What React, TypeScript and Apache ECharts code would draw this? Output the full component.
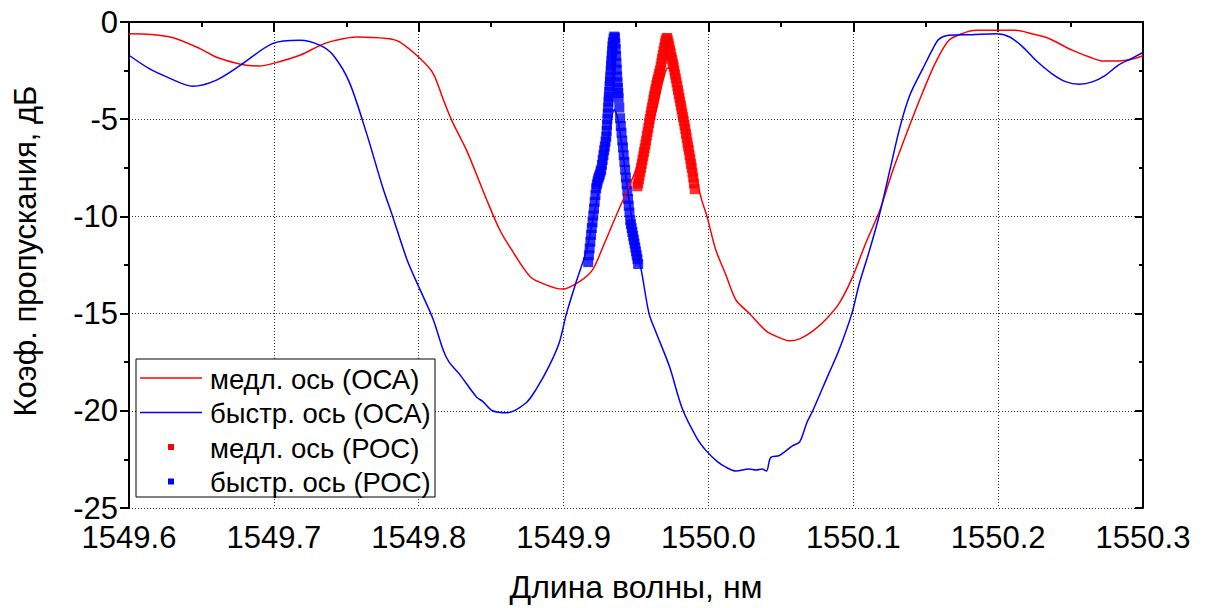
import React, { useEffect, useRef } from "react";
import * as echarts from "echarts";

const FONT = "'Liberation Sans', Arial, Helvetica, sans-serif";

const seriesNames = ["медл. ось (ОСА)", "быстр. ось (ОСА)", "медл. ось (РОС)", "быстр. ось (РОС)"];
const xAxisTitle = "Длина волны, нм";
const yAxisTitle = "Коэф. пропускания, дБ";

// slow axis, optical spectrum analyser
const slowOca: [number, number][] = [
  [1549.600, -0.60], [1549.615, -0.64], [1549.630, -0.80], [1549.649, -1.37], [1549.660, -1.80],
  [1549.677, -2.17], [1549.690, -2.26], [1549.699, -2.14], [1549.718, -1.71], [1549.732, -1.20],
  [1549.741, -0.97], [1549.757, -0.77], [1549.778, -0.85], [1549.787, -1.03], [1549.801, -1.88],
  [1549.810, -2.65], [1549.817, -4.00], [1549.823, -5.10], [1549.833, -6.59], [1549.847, -9.16],
  [1549.856, -10.70], [1549.864, -11.70], [1549.877, -13.10], [1549.888, -13.52], [1549.899, -13.74],
  [1549.911, -13.35], [1549.920, -12.75], [1549.927, -11.60], [1549.937, -9.84], [1549.948, -7.96],
  [1549.957, -6.25], [1549.964, -4.50], [1549.969, -2.90], [1549.972, -2.36], [1549.976, -2.60],
  [1549.982, -4.50], [1549.988, -6.80], [1549.995, -9.06], [1549.999, -10.00], [1550.005, -11.70],
  [1550.012, -13.00], [1550.019, -14.30], [1550.028, -14.97], [1550.040, -15.90], [1550.051, -16.30],
  [1550.056, -16.40], [1550.063, -16.30], [1550.072, -15.90], [1550.081, -15.30], [1550.090, -14.50],
  [1550.099, -13.20], [1550.109, -11.30], [1550.118, -9.75], [1550.127, -7.70], [1550.139, -5.30],
  [1550.148, -3.60], [1550.157, -2.05], [1550.166, -0.94], [1550.175, -0.60], [1550.185, -0.43],
  [1550.199, -0.43], [1550.212, -0.43], [1550.223, -0.60], [1550.235, -0.85], [1550.251, -1.45],
  [1550.263, -1.80], [1550.272, -2.00], [1550.283, -2.00], [1550.292, -1.92], [1550.300, -1.74],
];

// fast axis, optical spectrum analyser
const fastOca: [number, number][] = [
  [1549.600, -1.71], [1549.614, -2.40], [1549.626, -2.82], [1549.644, -3.30], [1549.660, -3.00],
  [1549.677, -2.22], [1549.699, -1.11], [1549.718, -0.94], [1549.732, -1.20], [1549.741, -1.71],
  [1549.752, -3.08], [1549.764, -5.73], [1549.775, -8.47], [1549.782, -10.00], [1549.792, -12.24],
  [1549.801, -13.78], [1549.810, -15.30], [1549.817, -16.90], [1549.821, -17.50], [1549.828, -18.10],
  [1549.840, -19.30], [1549.844, -19.50], [1549.851, -20.00], [1549.861, -20.10], [1549.874, -19.60],
  [1549.881, -18.90], [1549.890, -17.70], [1549.897, -16.50], [1549.902, -15.00], [1549.909, -13.30],
  [1549.916, -11.70], [1549.922, -9.50], [1549.928, -7.30], [1549.933, -5.00], [1549.935, -4.50],
  [1549.938, -5.20], [1549.944, -8.50], [1549.950, -11.50], [1549.954, -12.90], [1549.959, -15.00],
  [1549.964, -16.00], [1549.973, -17.70], [1549.982, -19.90], [1549.992, -21.40], [1549.999, -22.10],
  [1550.006, -22.60], [1550.012, -22.90], [1550.019, -23.10], [1550.028, -23.00], [1550.033, -23.05],
  [1550.037, -23.00], [1550.040, -23.10], [1550.043, -22.40], [1550.049, -22.30], [1550.058, -21.80],
  [1550.063, -21.60], [1550.068, -20.60], [1550.072, -20.00], [1550.083, -18.10], [1550.090, -16.90],
  [1550.099, -15.00], [1550.104, -13.50], [1550.111, -11.80], [1550.118, -9.93], [1550.125, -7.70],
  [1550.132, -5.47], [1550.139, -3.77], [1550.148, -2.40], [1550.155, -1.37], [1550.159, -0.89],
  [1550.166, -0.68], [1550.182, -0.65], [1550.199, -0.60], [1550.208, -0.77], [1550.217, -1.28],
  [1550.226, -1.97], [1550.237, -2.65], [1550.247, -3.08], [1550.256, -3.20], [1550.265, -3.08],
  [1550.274, -2.74], [1550.283, -2.22], [1550.292, -1.88], [1550.300, -1.57],
];

// slow axis, DFB (РОС) measurement
const slowPoc: [number, number][] = [
  [1549.9510, -8.45], [1549.9515, -8.30], [1549.9520, -8.10], [1549.9525, -7.90], [1549.9530, -7.70],
  [1549.9535, -7.50], [1549.9540, -7.30], [1549.9545, -7.10], [1549.9550, -6.90], [1549.9555, -6.70],
  [1549.9560, -6.50], [1549.9565, -6.30], [1549.9570, -6.10], [1549.9575, -5.85], [1549.9580, -5.65],
  [1549.9585, -5.45], [1549.9590, -5.20], [1549.9595, -5.00], [1549.9600, -4.80], [1549.9605, -4.60],
  [1549.9610, -4.40], [1549.9615, -4.20], [1549.9620, -4.00], [1549.9625, -3.80], [1549.9630, -3.60],
  [1549.9635, -3.45], [1549.9640, -3.25], [1549.9645, -3.10], [1549.9650, -2.95], [1549.9655, -2.80],
  [1549.9660, -2.65], [1549.9665, -2.50], [1549.9670, -2.30], [1549.9675, -2.10], [1549.9680, -1.90],
  [1549.9685, -1.70], [1549.9690, -1.50], [1549.9695, -1.30], [1549.9700, -1.10], [1549.9705, -0.95],
  [1549.9710, -0.85], [1549.9715, -0.82], [1549.9720, -0.95], [1549.9725, -1.10], [1549.9730, -1.25],
  [1549.9735, -1.45], [1549.9740, -1.60], [1549.9745, -1.80], [1549.9750, -1.95], [1549.9755, -2.15],
  [1549.9760, -2.30], [1549.9765, -2.50], [1549.9770, -2.70], [1549.9775, -2.90], [1549.9780, -3.10],
  [1549.9785, -3.30], [1549.9790, -3.50], [1549.9795, -3.70], [1549.9800, -3.90], [1549.9805, -4.10],
  [1549.9810, -4.30], [1549.9815, -4.50], [1549.9820, -4.70], [1549.9825, -4.90], [1549.9830, -5.10],
  [1549.9835, -5.30], [1549.9840, -5.50], [1549.9845, -5.75], [1549.9850, -5.95], [1549.9855, -6.20],
  [1549.9860, -6.40], [1549.9865, -6.60], [1549.9870, -6.85], [1549.9875, -7.05], [1549.9880, -7.30],
  [1549.9885, -7.50], [1549.9890, -7.75], [1549.9895, -8.00], [1549.9900, -8.30], [1549.9905, -8.60],
];

// fast axis, DFB (РОС) measurement
const fastPoc: [number, number][] = [
  [1549.91700, -12.35], [1549.91750, -12.00], [1549.91800, -11.65], [1549.91850, -11.30], [1549.91900, -10.95],
  [1549.91950, -10.60], [1549.92000, -10.30], [1549.92050, -9.95], [1549.92100, -9.60], [1549.92150, -9.25],
  [1549.92200, -8.90], [1549.92250, -8.55], [1549.92300, -8.35], [1549.92350, -8.20], [1549.92400, -8.05],
  [1549.92450, -7.95], [1549.92500, -7.85], [1549.92550, -7.70], [1549.92600, -7.60], [1549.92650, -7.35],
  [1549.92700, -7.10], [1549.92750, -6.85], [1549.92800, -6.60], [1549.92850, -6.40], [1549.92900, -6.15],
  [1549.92950, -5.90], [1549.92975, -5.60], [1549.93000, -5.30], [1549.93025, -5.00], [1549.93050, -4.70],
  [1549.93075, -4.40], [1549.93100, -4.10], [1549.93125, -3.85], [1549.93150, -3.60], [1549.93175, -3.30],
  [1549.93200, -3.05], [1549.93225, -2.80], [1549.93250, -2.50], [1549.93275, -2.25], [1549.93300, -2.00],
  [1549.93325, -1.75], [1549.93350, -1.50], [1549.93375, -1.25], [1549.93400, -1.05], [1549.93450, -0.85],
  [1549.93500, -0.75], [1549.93550, -0.80], [1549.93575, -1.10], [1549.93600, -1.40], [1549.93625, -1.75],
  [1549.93650, -2.10], [1549.93675, -2.45], [1549.93700, -2.80], [1549.93725, -3.10], [1549.93750, -3.40],
  [1549.93775, -3.65], [1549.93800, -3.90], [1549.93850, -4.40], [1549.93900, -4.95], [1549.93950, -5.35],
  [1549.94000, -5.70], [1549.94050, -6.10], [1549.94100, -6.45], [1549.94150, -6.85], [1549.94200, -7.20],
  [1549.94250, -7.60], [1549.94300, -8.00], [1549.94350, -8.35], [1549.94400, -8.70], [1549.94450, -9.10],
  [1549.94500, -9.45], [1549.94550, -9.80], [1549.94600, -10.20], [1549.94650, -10.40], [1549.94700, -10.60],
  [1549.94750, -10.80], [1549.94800, -11.00], [1549.94850, -11.20], [1549.94900, -11.40], [1549.94950, -11.60],
  [1549.95000, -11.80], [1549.95050, -12.00], [1549.95100, -12.20], [1549.95150, -12.45],
];

const X_MIN = 1549.6;
const X_MAX = 1550.3;
const X_STEP = 0.1;
const Y_MIN = -25;
const Y_MAX = 0;
const Y_STEP = 5;

const RED = "#ff0000";
const BLUE = "#0000ff";

export default function App() {
  const ref = useRef<HTMLDivElement>(null);

  useEffect(() => {
    if (!ref.current) return;
    const chart = echarts.init(ref.current, undefined, { renderer: "svg" });

    const grid = { left: 129, right: 62, top: 22, bottom: 100 };

    const baseAxisLine = { show: true, lineStyle: { color: "#000", width: 2 } };

    const legendX = 136;
    const legendY = 359;
    const rowH = 34.5;
    const legendGraphic: any[] = [
      {
        type: "rect",
        shape: { x: legendX, y: legendY, width: 299, height: 138 },
        style: { fill: "#fff", stroke: "#000", lineWidth: 1 },
        z: 100,
      },
    ];
    seriesNames.forEach((name, i) => {
      const cy = legendY + 19 + i * rowH;
      const color = i % 2 === 0 ? RED : BLUE;
      if (i < 2) {
        legendGraphic.push({
          type: "line",
          shape: { x1: legendX + 4, y1: cy, x2: legendX + 66, y2: cy },
          style: { stroke: color, lineWidth: 1.5 },
          z: 101,
        });
      } else {
        legendGraphic.push({
          type: "rect",
          shape: { x: legendX + 32, y: cy - 3, width: 6, height: 6 },
          style: { fill: color },
          z: 101,
        });
      }
      legendGraphic.push({
        type: "text",
        x: legendX + 74,
        y: cy + 1,
        style: {
          text: name,
          font: `27.5px ${FONT}`,
          fill: "#000",
          verticalAlign: "middle",
        },
        z: 101,
      });
    });

    chart.setOption({
      animation: false,
      backgroundColor: "#fff",
      grid,
      xAxis: [
        {
          type: "value",
          min: X_MIN,
          max: X_MAX,
          interval: X_STEP,
          position: "bottom",
          name: xAxisTitle,
          nameLocation: "middle",
          nameGap: 63,
          nameTextStyle: { fontFamily: FONT, fontSize: 32, color: "#000" },
          axisLine: baseAxisLine,
          axisTick: { show: true, inside: false, length: 10, lineStyle: { color: "#000", width: 2 } },
          minorTick: { show: true, splitNumber: 2, length: 5, lineStyle: { color: "#000", width: 2 } },
          axisLabel: {
            margin: 16,
            fontFamily: FONT,
            fontSize: 31,
            lineHeight: 26,
            color: "#000",
            formatter: (v: number) => v.toFixed(1),
          },
          splitLine: { show: true, lineStyle: { color: "#333", width: 1, type: [1, 2] } },
        },
        {
          type: "value",
          min: X_MIN,
          max: X_MAX,
          interval: X_STEP,
          position: "top",
          axisLine: baseAxisLine,
          axisTick: { show: true, inside: true, length: 8, lineStyle: { color: "#000", width: 2 } },
          minorTick: { show: true, splitNumber: 2, length: 4, lineStyle: { color: "#000", width: 2 } },
          axisLabel: { show: false },
          splitLine: { show: false },
        },
      ],
      yAxis: [
        {
          type: "value",
          min: Y_MIN,
          max: Y_MAX,
          interval: Y_STEP,
          position: "left",
          name: yAxisTitle,
          nameLocation: "middle",
          nameGap: 88,
          nameRotate: 90,
          nameTextStyle: { fontFamily: FONT, fontSize: 31, color: "#000", padding: [0, 0, 0, 28] },
          axisLine: baseAxisLine,
          axisTick: { show: true, inside: false, length: 9, lineStyle: { color: "#000", width: 2 } },
          minorTick: { show: true, splitNumber: 2, length: 5, lineStyle: { color: "#000", width: 2 } },
          axisLabel: { margin: 11, fontFamily: FONT, fontSize: 31, lineHeight: 26, color: "#000" },
          splitLine: { show: true, lineStyle: { color: "#333", width: 1, type: [1, 2] } },
        },
        {
          type: "value",
          min: Y_MIN,
          max: Y_MAX,
          interval: Y_STEP,
          position: "right",
          axisLine: baseAxisLine,
          axisTick: { show: true, inside: true, length: 8, lineStyle: { color: "#000", width: 2 } },
          minorTick: { show: true, splitNumber: 2, length: 4, lineStyle: { color: "#000", width: 2 } },
          axisLabel: { show: false },
          splitLine: { show: false },
        },
      ],
      series: [
        {
          name: seriesNames[2],
          type: "scatter",
          data: slowPoc,
          symbol: "rect",
          symbolSize: 10,
          itemStyle: { color: RED },
          z: 2,
        },
        {
          name: seriesNames[3],
          type: "scatter",
          data: fastPoc,
          symbol: "rect",
          symbolSize: 10,
          itemStyle: { color: BLUE },
          z: 2,
        },
        {
          name: seriesNames[0],
          type: "line",
          data: slowOca,
          showSymbol: false,
          smooth: 0.3,
          lineStyle: { color: RED, width: 1.5 },
          itemStyle: { color: RED },
          z: 3,
        },
        {
          name: seriesNames[1],
          type: "line",
          data: fastOca,
          showSymbol: false,
          smooth: 0.3,
          lineStyle: { color: BLUE, width: 1.5 },
          itemStyle: { color: BLUE },
          z: 3,
        },
      ],
      graphic: legendGraphic,
    });

    return () => chart.dispose();
  }, []);

  return <div ref={ref} style={{ width: 1205, height: 608, position: "absolute", left: 0, top: 0 }} />;
}
